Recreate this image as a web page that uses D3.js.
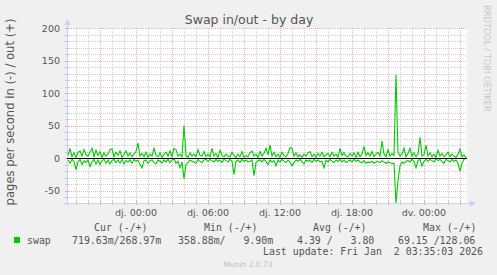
<!DOCTYPE html>
<html><head><meta charset="utf-8">
<script src="https://cdn.jsdelivr.net/npm/d3@7"></script>
<style>body{margin:0;background:#F0F0F0}svg{display:block}</style>
</head><body>
<svg id="c" width="497" height="275"></svg>
<script>
// ---- data ----
const outVals = [
4,15,2,8,1,9,11,3,13,5, 3,9,15,2,12,4,10,1,8,3, 6,13,14,2,9,4,11,1,5,11,
3,8,2,6,10,23,3,7,2,9, 1,6,3,15,4,2,8,1,6,9, 3,11,2,15,13,3,6,2,50,4,
1,8,3,6,2,13,4,3,10,2, 6,2,15,3,7,1,12,4,2,6, 3,2,9,4,1,6,2,10,1,4,
2,8,11,3,6,1,10,3,7,15, 5,20,3,9,2,6,1,9,4,2, 7,16,15,3,8,2,5,1,6,3,
8,10,2,6,1,7,3,9,2,5, 7,2,9,3,6,1,15,4,8,3, 2,7,3,8,1,9,2,6,18,4,
8,3,10,2,6,9,3,26,6,2, 13,3,7,4,128.06,9,3,6,15,2, 7,15,3,8,2,6,32,3,5,20,
3,8,2,6,1,12,3,7,2,5, 9,2,6,3,1,6,14,2,5,0.27];
const inVals = [
3,8,2,5,18,6,2,10,4,7, 3,13,6,2,9,3,10,4,2,8, 3,9,4,2,7,3,8,2,9,4,
6,3,8,2,5,3,10,15,4,3, 8,4,3,7,9,3,5,8,3,6, 2,7,3,1,8,5,15,6,32,10,
7,3,5,6,8,2,5,7,3,2, 5,2,4,6,2,5,3,7,2,4, 6,2,5,25,5,3,7,2,5,3,
6,5,3,27,7,4,3,6,2,5, 10,3,6,4,12,3,6,2,5,7, 3,6,12,7,3,5,2,6,9,3,
5,3,7,2,5,3,6,5,15,3, 6,2,5,7,3,5,2,6,3,7, 5,3,6,2,5,3,6,7,4,8,
6,7,5,8,6,5,7,4,6,8, 6,7,9,8,69.15,35,12,6,8,5, 4,6,2,5,15,4,2,12,5,2,
5,2,4,6,1,4,2,5,8,2, 4,6,2,5,3,8,20,8,2,0.72];
const yTicks = [200,150,100,50,0,-50];
const xTickLabels = ["dj. 00:00","dj. 06:00","dj. 12:00","dj. 18:00","dv. 00:00"];
const xTickTimes = ["2026-01-01T00:00","2026-01-01T06:00","2026-01-01T12:00","2026-01-01T18:00","2026-01-02T00:00"];
const legendHead = ["Cur (-/+)","Min (-/+)","Avg (-/+)","Max (-/+)"];
const legendVals = ["719.63m/268.97m","358.88m/   9.90m","4.39 /   3.80","69.15 /128.06"];
const seriesName = "swap";
const title = "Swap in/out - by day";
const yLabel = "pages per second in (-) / out (+)";
const lastUpdate = "Last update: Fri Jan  2 03:35:03 2026";
const footer = "Munin 2.0.73";
const sideText = "RRDTOOL / TOBI OETIKER";
const stepMin = 10;
const domStart = new Date("2025-12-31T18:15"), domEnd = new Date("2026-01-02T03:35");
const endSample = new Date("2026-01-02T03:30");

// ---- layout ----
const L=67,R=467,T=28,B=203;
const svg=d3.select("#c");
const x=d3.scaleTime().domain([domStart,domEnd]).range([L,R]);
const y=d3.scaleLinear().domain([-69.15,200]).range([B,T]);
const n=outVals.length;
const times=d3.range(n).map(i=>new Date(+endSample-(n-1-i)*stepMin*60000));

svg.append("rect").attr("x",L).attr("y",T).attr("width",R-L).attr("height",B-T).attr("fill","#fff");

// minor grid
const g=svg.append("g").attr("shape-rendering","crispEdges");
const minorY=d3.range(-60,200,10).filter(v=>v%50!==0);
g.selectAll(".my").data(minorY).join("line").attr("x1",L).attr("x2",R)
 .attr("y1",d=>Math.round(y(d))+0.5).attr("y2",d=>Math.round(y(d))+0.5)
 .attr("stroke","#d0d0d0").attr("stroke-dasharray","1,1");
const hours=d3.timeHour.range(domStart,domEnd);
g.selectAll(".mx").data(hours.filter(h=>h.getHours()%3!==0)).join("line")
 .attr("x1",d=>Math.round(x(d))+0.5).attr("x2",d=>Math.round(x(d))+0.5).attr("y1",T).attr("y2",B)
 .attr("stroke","#d0d0d0").attr("stroke-dasharray","1,1");
// major grid
g.selectAll(".My").data(yTicks).join("line").attr("x1",L).attr("x2",R)
 .attr("y1",d=>Math.round(y(d))+0.5).attr("y2",d=>Math.round(y(d))+0.5)
 .attr("stroke","#f0b4b4").attr("stroke-dasharray","1,1");
g.selectAll(".Mx").data(hours.filter(h=>h.getHours()%3===0)).join("line")
 .attr("x1",d=>Math.round(x(d))+0.5).attr("x2",d=>Math.round(x(d))+0.5).attr("y1",T).attr("y2",B)
 .attr("stroke","#f0b4b4").attr("stroke-dasharray","1,1");
// axis ticks
g.selectAll(".tk").data(hours).join("line")
 .attr("x1",d=>Math.round(x(d))+0.5).attr("x2",d=>Math.round(x(d))+0.5)
 .attr("y1",B-2).attr("y2",B+2)
 .attr("stroke",d=>d.getHours()%3===0?"#f0a0a0":"#c8c8c8");
g.selectAll(".tky").data(d3.range(-60,201,10)).join("line")
 .attr("x1",L-2).attr("x2",L+2)
 .attr("y1",d=>Math.round(y(d))+0.5).attr("y2",d=>Math.round(y(d))+0.5)
 .attr("stroke",d=>d%50===0?"#f0a0a0":"#c8c8c8");

// axes
svg.append("line").attr("x1",L+0.5).attr("x2",L+0.5).attr("y1",B+3).attr("y2",T-4).attr("stroke","#ccccff").attr("shape-rendering","crispEdges");
svg.append("path").attr("d",`M${L-2.5},${T-3}L${L+3.5},${T-3}L${L+0.5},${T-9}Z`).attr("fill","#ccccff");
svg.append("line").attr("x1",L-3).attr("x2",R+4).attr("y1",B+0.5).attr("y2",B+0.5).attr("stroke","#ccccff").attr("shape-rendering","crispEdges");
svg.append("path").attr("d",`M${R+3},${B-2.5}L${R+3},${B+3.5}L${R+9},${B+0.5}Z`).attr("fill","#ccccff");

// data lines
const lineOut=d3.line().x((d,i)=>x(times[i])).y(d=>y(d));
const lineIn=d3.line().x((d,i)=>x(times[i])).y(d=>y(-d));
svg.append("path").attr("d",lineIn(inVals)).attr("fill","none").attr("stroke","#00cc00").attr("stroke-width",1.1);
svg.append("path").attr("d",lineOut(outVals)).attr("fill","none").attr("stroke","#00cc00").attr("stroke-width",1.1);
// zero line
svg.append("line").attr("x1",L).attr("x2",R).attr("y1",Math.round(y(0))+0.5).attr("y2",Math.round(y(0))+0.5)
 .attr("stroke","#000").attr("stroke-width",1.2);

// text
const sans="DejaVu Sans", mono="DejaVu Sans Mono";
svg.append("text").attr("x",249).attr("y",24).attr("text-anchor","middle").attr("font-family",sans)
 .attr("font-size",12.5).attr("fill","#555").text(title);
svg.selectAll(".yl").data(yTicks).join("text").attr("x",60).attr("y",d=>y(d)+3.5).attr("text-anchor","end")
 .attr("font-family",sans).attr("font-size",9.5).attr("fill","#555").text(d=>d);
svg.selectAll(".xl").data(xTickLabels).join("text").attr("x",(d,i)=>x(new Date(xTickTimes[i]))).attr("y",216)
 .attr("text-anchor","middle").attr("font-family",sans).attr("font-size",9.5).attr("fill","#555").text(d=>d);
svg.append("text").attr("transform",`translate(14,112) rotate(-90)`).attr("text-anchor","middle")
 .attr("font-family",sans).attr("font-size",11.6).attr("fill","#555").text(yLabel);
svg.append("text").attr("transform",`translate(484,5) rotate(90)`).attr("text-anchor","start")
 .attr("font-family",sans).attr("font-size",8.3).attr("fill","#c8c8c8").text(sideText);

// legend
const headX=[94,204,313,423];
svg.selectAll(".lh").data(legendHead).join("text").attr("x",(d,i)=>headX[i]).attr("y",231)
 .attr("font-family",mono).attr("font-size",9.9).attr("fill","#555").style("white-space","pre").text(d=>d);
svg.append("rect").attr("x",14).attr("y",237).attr("width",6).attr("height",6).attr("fill","#00cc00");
svg.append("text").attr("x",27).attr("y",244).attr("font-family",mono).attr("font-size",9.9).attr("fill","#555").text(seriesName);
const valX=[72,178,297,398];
svg.selectAll(".lv").data(legendVals).join("text").attr("x",(d,i)=>valX[i]).attr("y",244)
 .attr("font-family",mono).attr("font-size",9.9).attr("fill","#555").style("white-space","pre").text(d=>d);
svg.append("text").attr("x",483).attr("y",255).attr("text-anchor","end").attr("font-family",mono)
 .attr("font-size",9.9).attr("fill","#555").style("white-space","pre").text(lastUpdate);
svg.append("text").attr("x",248).attr("y",267).attr("text-anchor","middle").attr("font-family",sans)
 .attr("font-size",7.5).attr("fill","#c0c0c0").text(footer);
</script>
</body></html>
